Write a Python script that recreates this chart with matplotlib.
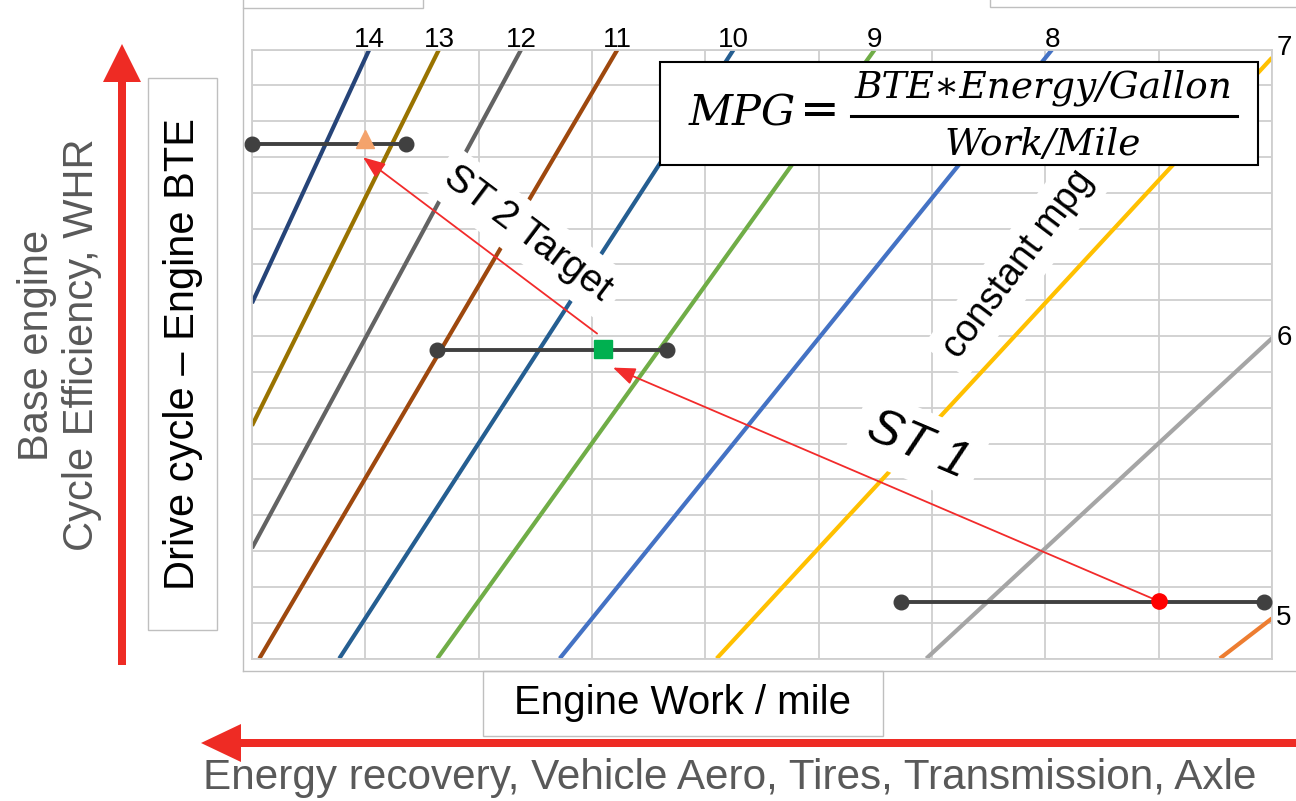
import numpy as np
import matplotlib.pyplot as plt
from matplotlib.patches import Rectangle, FancyArrow

plt.rcParams['font.family'] = ['Liberation Sans', 'DejaVu Sans']

# constant-mpg lines, visible segment ends
# x = engine work (kWh/mile), y = drive cycle BTE (%)
mpg = [14, 13, 12, 11, 10, 9, 8, 7, 6, 5]
line_colors = ['#264478', '#997300', '#636363', '#9E480E', '#255E91',
               '#70AD47', '#4472C4', '#FFC000', '#A5A5A5', '#ED7D31']
w_start = [1.400, 1.400, 1.400, 1.413, 1.554, 1.727, 1.943, 2.220, 2.590, 3.108]
bte_start = [47.92, 44.50, 41.08, 38.0, 38.0, 38.0, 38.0, 38.0, 38.0, 38.0]
w_end = [1.607, 1.730, 1.875, 2.045, 2.250, 2.499, 2.812, 3.200, 3.200, 3.200]
bte_end = [55.0, 55.0, 55.0, 55.0, 55.0, 55.0, 55.0, 54.77, 46.94, 39.12]

# ST 1, ST 2, ST 2 target points and their ranges
pt_w = [3.00, 2.02, 1.60]
pt_bte = [39.60, 46.65, 52.50]
pt_marker = ['o', 's', '^']
pt_color = ['#FF0000', '#00B050', '#F4A36C']
pt_size = [11, 13, 13]
rng_lo = [2.545, 1.727, 1.400]
rng_hi = [3.185, 2.133, 1.672]
rng_bte = [39.58, 46.60, 52.35]

# red progress arrows
arr_from = [(3.00, 39.60), (2.009, 47.07)]
arr_to = [(2.037, 46.12), (1.596, 51.99)]

FW, FH = 1296, 801
fig = plt.figure(figsize=(FW / 100, FH / 100), dpi=100)
L, R, T, B = 252, 1272, 49.5, 658.5
ax = fig.add_axes([L / FW, 1 - B / FH, (R - L) / FW, (B - T) / FH])
ax.set_xlim(1.4, 3.2)
ax.set_ylim(38, 55)
ax.set_xticks(np.arange(1.4, 3.21, 0.2))
ax.set_yticks(np.arange(38, 55.1, 1))
ax.tick_params(length=0, labelbottom=False, labelleft=False)
ax.grid(True, color='#CFCFCF', lw=1.3)
ax.set_axisbelow(True)
for s in ax.spines.values():
    s.set_color('#CFCFCF')
    s.set_linewidth(1.3)

for m, c, x0, y0, x1, y1 in zip(mpg, line_colors, w_start, bte_start, w_end, bte_end):
    ax.plot([x0, x1], [y0, y1], color=c, lw=3, solid_capstyle='butt', zorder=2)
    if y1 >= 55:
        ax.annotate(str(m), (x1, y1), xytext=(0, 2), textcoords='offset points',
                    ha='center', va='baseline', fontsize=20, annotation_clip=False)
    elif m == 7:
        ax.annotate(str(m), (x1, y1), xytext=(3, 2), textcoords='offset points',
                    ha='left', va='baseline', fontsize=20, annotation_clip=False)
    else:
        ax.annotate(str(m), (x1, y1), xytext=(3, 0), textcoords='offset points',
                    ha='left', va='center', fontsize=20, annotation_clip=False)

box = dict(boxstyle='square,pad=0.25', fc='white', ec='none')
ax.text(1.887, 49.86, 'ST 2 Target', rotation=-37, rotation_mode='anchor',
        ha='center', va='center', fontsize=28, bbox=box, zorder=3)
ax.text(2.752, 49.0, 'constant mpg', rotation=53, rotation_mode='anchor',
        ha='center', va='center', fontsize=27, bbox=box, zorder=3)
ax.text(2.574, 43.95, 'ST 1', rotation=-23, rotation_mode='anchor',
        ha='center', va='center', fontsize=36, style='italic', bbox=box, zorder=3)

for lo, hi, y in zip(rng_lo, rng_hi, rng_bte):
    ax.plot([lo, hi], [y, y], '-o', color='#404040', lw=2.8, ms=10.5,
            zorder=4, clip_on=False)

for a, b in zip(arr_from, arr_to):
    ax.annotate('', xy=b, xytext=a,
                arrowprops=dict(arrowstyle='-|>,head_length=0.9,head_width=0.35',
                                color='#F22B2B', lw=1.3, shrinkA=0, shrinkB=0,
                                mutation_scale=15), zorder=5)

for x, y, mk, c, ms in zip(pt_w, pt_bte, pt_marker, pt_color, pt_size):
    ax.plot(x, y, marker=mk, color=c, ms=ms, ls='none', zorder=6)

# overlay in pixel coordinates for the slide decorations
ov = fig.add_axes([0, 0, 1, 1], zorder=5)
ov.set_xlim(0, FW)
ov.set_ylim(FH, 0)
ov.axis('off')
ov.patch.set_alpha(0)

gray = '#BFBFBF'
ov.plot([243, 243], [8, 671], color=gray, lw=1)
ov.plot([243, FW], [671, 671], color=gray, lw=1)
ov.add_patch(Rectangle((243, -10), 180, 18, fc='white', ec=gray, lw=1))
ov.add_patch(Rectangle((990, -10), 320, 17, fc='white', ec=gray, lw=1))

ov.add_patch(Rectangle((483, 671), 400, 65, fc='white', ec=gray, lw=1))
ov.text(683, 703, 'Engine Work / mile', fontsize=29, ha='center', va='center')

ov.add_patch(Rectangle((148, 78), 69, 552, fc='white', ec=gray, lw=1))
ov.text(183, 354, 'Drive cycle \u2013 Engine BTE', fontsize=30, rotation=90,
        ha='center', va='center')

txt_gray = '#595959'
ov.text(37, 345, 'Base engine', fontsize=30, rotation=90, color=txt_gray,
        ha='center', va='center')
ov.text(82, 345, 'Cycle Efficiency, WHR', fontsize=30, rotation=90, color=txt_gray,
        ha='center', va='center')
ov.text(730, 778, 'Energy recovery, Vehicle Aero, Tires, Transmission, Axle',
        fontsize=30.4, color=txt_gray, ha='center', va='center')

red = '#EE2B24'
ov.add_patch(FancyArrow(122, 665, 0, -621, width=8, head_width=38, head_length=38,
                        length_includes_head=True, color=red, lw=0))
ov.add_patch(FancyArrow(1300, 743, -1099, 0, width=8, head_width=38, head_length=40,
                        length_includes_head=True, color=red, lw=0))

# formula box
ov.add_patch(Rectangle((660, 62), 598, 103, fc='white', ec='black', lw=1.5))
serif = dict(family='DejaVu Serif', style='italic')
ov.text(742, 113, 'MPG', fontsize=31, ha='center', va='center', **serif)
ov.text(820, 111, '=', fontsize=34, ha='center', va='center', family='DejaVu Serif')
ov.text(1043, 88, 'BTE\u2217Energy/Gallon', fontsize=27, ha='center', va='center', **serif)
ov.plot([851, 1237], [116, 116], color='black', lw=2.2)
ov.text(1043, 145, 'Work/Mile', fontsize=27, ha='center', va='center', **serif)

fig.savefig('out.png', dpi=100)
